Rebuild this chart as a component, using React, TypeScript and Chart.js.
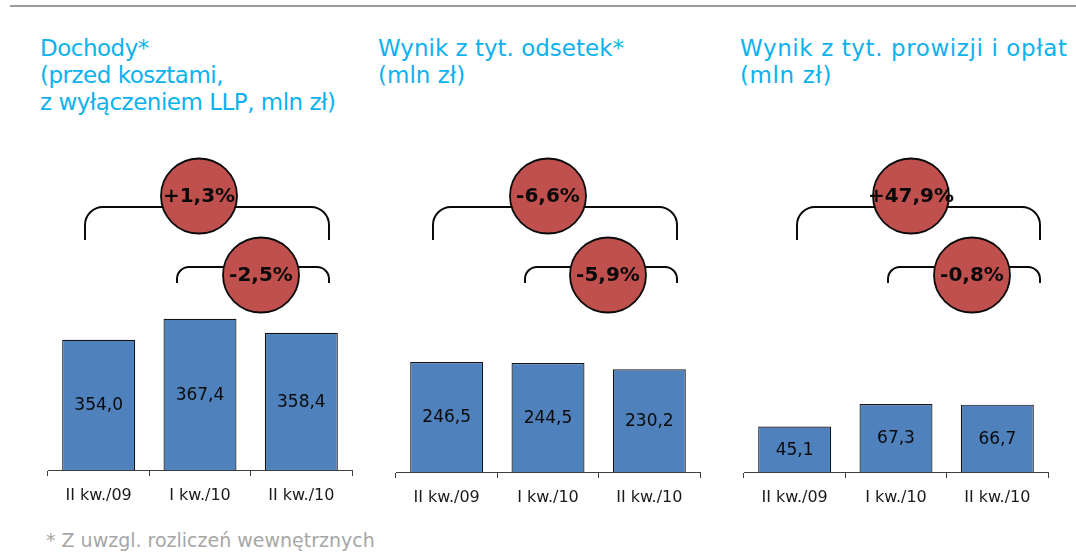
import React, { useEffect, useRef } from "react";
import { Chart, registerables } from "chart.js";

Chart.register(...registerables);

// ---- data ----
const CATEGORIES = ["II kw./09", "I kw./10", "II kw./10"];
const DOCHODY = [354.0, 367.4, 358.4];
const ODSETKI = [246.5, 244.5, 230.2];
const PROWIZJE = [45.1, 67.3, 66.7];
const CHANGE_DOCHODY = ["+1,3%", "-2,5%"];
const CHANGE_ODSETKI = ["-6,6%", "-5,9%"];
const CHANGE_PROWIZJE = ["+47,9%", "-0,8%"];
const TITLE_DOCHODY = ["Dochody*", "(przed kosztami,", "z wyłączeniem LLP, mln zł)"];
const TITLE_ODSETKI = ["Wynik z tyt. odsetek*", "(mln zł)"];
const TITLE_PROWIZJE = ["Wynik z tyt. prowizji i opłat", "(mln zł)"];
const FOOTNOTE = "* Z uwzgl. rozliczeń wewnętrznych";

const FONT = "'DejaVu Sans', Verdana, sans-serif";
const BAR_COLOR = "#4F81BD";
const CIRCLE_COLOR = "#C0504D";
const TITLE_COLOR = "#0DB1EE";

type PanelLayout = {
  left: number; // page x of axis start
  top: number; // page y of canvas top
  yMin: number;
  yMax: number;
  big: [number, number]; // bracket x offsets relative to axis start
  small: [number, number];
  c1: number; // circle x offsets
  c2: number;
  titleLeft: number;
  titleSpacing: number;
};

const CANVAS_W = 312;
const CANVAS_H = 400;
const PAD_L = 2;
const AXIS_H = 50;

function drawBracket(ctx: CanvasRenderingContext2D, x1: number, x2: number, yTop: number, yBot: number, r: number) {
  ctx.beginPath();
  ctx.moveTo(x1, yBot);
  ctx.lineTo(x1, yTop + r);
  ctx.arcTo(x1, yTop, x1 + r, yTop, r);
  ctx.lineTo(x2 - r, yTop);
  ctx.arcTo(x2, yTop, x2, yTop + r, r);
  ctx.lineTo(x2, yBot);
  ctx.stroke();
}

function drawCircle(ctx: CanvasRenderingContext2D, cx: number, cy: number, text: string) {
  ctx.beginPath();
  ctx.ellipse(cx, cy, 38, 37.5, 0, 0, Math.PI * 2);
  ctx.fillStyle = CIRCLE_COLOR;
  ctx.fill();
  ctx.lineWidth = 1.8;
  ctx.strokeStyle = "#0a0a0a";
  ctx.stroke();
  ctx.fillStyle = "#0a0a0a";
  ctx.font = `bold 20px ${FONT}`;
  ctx.textAlign = "center";
  ctx.textBaseline = "middle";
  ctx.fillText(text, cx, cy + 1);
}

function Panel({ values, changes, layout }: { values: number[]; changes: string[]; layout: PanelLayout }) {
  const ref = useRef<HTMLCanvasElement | null>(null);
  useEffect(() => {
    if (!ref.current) return;
    const annot = {
      id: "annot",
      afterDatasetsDraw(chart: any) {
        const ctx: CanvasRenderingContext2D = chart.ctx;
        const ax = chart.chartArea.left;
        const bottom = chart.chartArea.bottom;
        const off = layout.top;
        ctx.save();
        // value labels
        const meta = chart.getDatasetMeta(0);
        ctx.fillStyle = "#0a0a0a";
        ctx.font = `17px ${FONT}`;
        ctx.textAlign = "center";
        ctx.textBaseline = "middle";
        meta.data.forEach((el: any, i: number) => {
          const v = values[i];
          const base = Math.min(el.base, bottom);
          ctx.fillText(v.toFixed(1).replace(".", ","), el.x, (el.y + base) / 2 + 1);
        });
        // brackets
        ctx.strokeStyle = "#0a0a0a";
        ctx.lineWidth = 2;
        drawBracket(ctx, ax + layout.big[0], ax + layout.big[1], 207 - off, 240 - off, 18);
        drawBracket(ctx, ax + layout.small[0], ax + layout.small[1], 267 - off, 283 - off, 12);
        drawCircle(ctx, ax + layout.c1, 196 - off, changes[0]);
        drawCircle(ctx, ax + layout.c2, 275 - off, changes[1]);
        ctx.restore();
      },
    };
    const chart = new Chart(ref.current, {
      type: "bar",
      data: {
        labels: CATEGORIES,
        datasets: [
          {
            data: values,
            backgroundColor: BAR_COLOR,
            borderColor: "#141414",
            borderWidth: 1.2,
            barPercentage: 0.72,
            categoryPercentage: 1,
          },
        ],
      },
      options: {
        animation: false,
        responsive: false,
        maintainAspectRatio: false,
        layout: { padding: { left: PAD_L, right: CANVAS_W - PAD_L - 304, top: 0, bottom: 0 } },
        plugins: { legend: { display: false }, tooltip: { enabled: false } },
        scales: {
          x: {
            grid: {
              display: true,
              drawOnChartArea: false,
              drawTicks: true,
              tickLength: 6,
              color: "#404040",
              lineWidth: 1,
              offset: true,
            },
            border: { display: true, color: "#404040", width: 1 },
            ticks: {
              color: "#1a1a1a",
              font: { family: FONT, size: 16 },
              padding: 10,
              maxRotation: 0,
              autoSkip: false,
            },
            afterFit: (s: any) => {
              s.height = AXIS_H;
            },
          },
          y: { display: false, min: layout.yMin, max: layout.yMax },
        },
      },
      plugins: [annot],
    } as any);
    return () => chart.destroy();
  }, [values, changes, layout]);
  return (
    <canvas
      ref={ref}
      width={CANVAS_W}
      height={CANVAS_H}
      style={{ position: "absolute", left: layout.left - PAD_L, top: layout.top, width: CANVAS_W, height: CANVAS_H }}
    />
  );
}

const L1: PanelLayout = { left: 48, top: 120, yMin: 271, yMax: 494, big: [37, 281], small: [129, 281], c1: 151, c2: 213, titleLeft: 40, titleSpacing: -0.5 };
const L2: PanelLayout = { left: 396, top: 122, yMin: 0, yMax: 785, big: [37, 281], small: [129, 281], c1: 152, c2: 212, titleLeft: 378, titleSpacing: 0 };
const L3: PanelLayout = { left: 744, top: 122, yMin: 0, yMax: 346.5, big: [53, 296], small: [144, 296], c1: 167, c2: 228, titleLeft: 740, titleSpacing: 0.6 };

function Title({ lines, left, spacing }: { lines: string[]; left: number; spacing: number }) {
  return (
    <div
      style={{
        position: "absolute",
        left,
        top: 35,
        color: TITLE_COLOR,
        fontFamily: FONT,
        fontSize: 23,
        lineHeight: "27px",
        letterSpacing: spacing,
        whiteSpace: "nowrap",
      }}
    >
      {lines.map((l, i) => (
        <div key={i}>{l}</div>
      ))}
    </div>
  );
}

export default function App() {
  return (
    <div
      style={{
        position: "fixed",
        left: 0,
        top: 0,
        width: 1076,
        height: 560,
        background: "#fff",
        overflow: "hidden",
        fontFamily: FONT,
      }}
    >
      <div style={{ position: "absolute", left: 10, top: 5, width: 1066, height: 2, background: "#9a9a9a" }} />
      <Title lines={TITLE_DOCHODY} left={L1.titleLeft} spacing={L1.titleSpacing} />
      <Title lines={TITLE_ODSETKI} left={L2.titleLeft} spacing={L2.titleSpacing} />
      <Title lines={TITLE_PROWIZJE} left={L3.titleLeft} spacing={L3.titleSpacing} />
      <Panel values={DOCHODY} changes={CHANGE_DOCHODY} layout={L1} />
      <Panel values={ODSETKI} changes={CHANGE_ODSETKI} layout={L2} />
      <Panel values={PROWIZJE} changes={CHANGE_PROWIZJE} layout={L3} />
      <div
        style={{
          position: "absolute",
          left: 46,
          top: 531,
          color: "#a6a6a6",
          fontFamily: FONT,
          fontSize: 19,
          lineHeight: "19px",
          whiteSpace: "nowrap",
        }}
      >
        {FOOTNOTE}
      </div>
    </div>
  );
}
